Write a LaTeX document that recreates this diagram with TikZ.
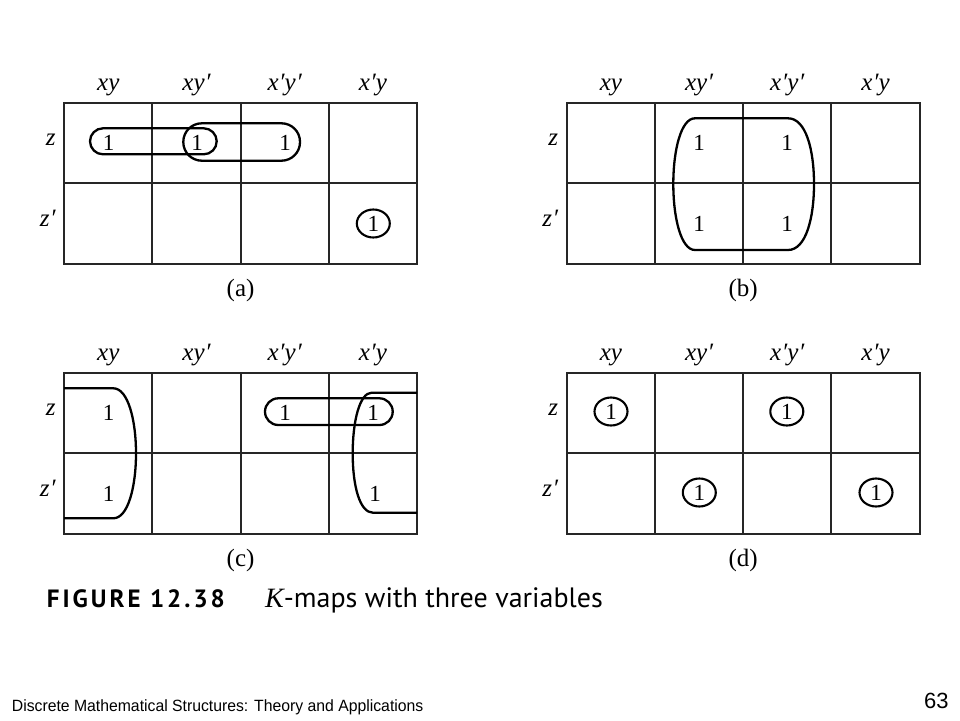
\documentclass[tikz,border=0pt]{standalone}
\usepackage{graphicx}
\usepackage{fontspec}
\newfontfamily\ptsans{PT Sans}
\newfontfamily\figfont[LetterSpace=12]{PT Sans Bold}
\newfontfamily\arialfont{Liberation Sans}
\newfontfamily\timesfont{Liberation Serif}
\usetikzlibrary{shapes.geometric}
\tikzset{
  gridline/.style={line width=1.9pt, draw=black!85},
  loopline/.style={line width=2.3pt, draw=black},
  lbl/.style={inner sep=0pt, font=\timesfont\itshape\fontsize{25}{29}\selectfont},
  one/.style={inner sep=0pt, font=\timesfont\fontsize{23}{27}\selectfont},
  subcap/.style={inner sep=0pt, font=\timesfont\fontsize{25}{29}\selectfont},
  cone/.style={one, draw=black, line width=2.1pt, ellipse, minimum width=33pt, minimum height=28pt},
}
\newcommand{\KMap}[4]{%
  \begin{scope}[shift={(#1,#2)}]
    \draw[gridline] (0,0) rectangle (352.8,161.4);
    \foreach \i in {1,2,3} \draw[gridline] (\i*88.2,0) -- (\i*88.2,161.4);
    \draw[gridline] (0,80.7) -- (352.8,80.7);
    \node[lbl, anchor=base] (#4-h1) at (44.1,-12.7) {xy};
    \node[lbl, anchor=base] (#4-h2) at (132.3,-12.7) {xy\kern0.5pt′};
    \node[lbl, anchor=base] (#4-h3) at (220.5,-12.7) {x\kern0.5pt′y\kern0.5pt′};
    \node[lbl, anchor=base] (#4-h4) at (308.7,-12.7) {x\kern0.5pt′y};
    \node[lbl, anchor=base east] (#4-z) at (-8.5,42.3) {z};
    \node[lbl, anchor=base east] (#4-zp) at (-8.5,124) {z\kern0.5pt′};
    \node[subcap] (#4-cap) at (176.4,187.3) {(#3)};
  \end{scope}}
\begin{document}
\begin{tikzpicture}[x=1pt,y=-1pt]
\fill[white] (0,0) rectangle (960,720);
\useasboundingbox (0,0) rectangle (960,720);
% maps
\KMap{64.2}{102.7}{a}{ma}
\KMap{566.8}{102.7}{b}{mb}
\KMap{64.2}{372.7}{c}{mc}
\KMap{566.8}{372.7}{d}{md}
% (a)
\node[one] (a1) at (108.5,143) {1};
\node[one] (a2) at (197,143) {1};
\node[one] (a3) at (285,143) {1};
\node[cone] (a4) at (373.3,223.5) {1};
\draw[loopline, rounded corners=13] (90,128.3) rectangle (216.7,154.3);
\draw[loopline, rounded corners=18.5] (183.3,123.3) rectangle (300,160.7);
% (b)
\node[one] (b1) at (699,143.3) {1};
\node[one] (b2) at (787,143.3) {1};
\node[one] (b3) at (699,224) {1};
\node[one] (b4) at (787,224) {1};
\draw[loopline] (695,118.3) -- (788,118.3)
  .. controls (806,118.3) and (814,150) .. (814,184)
  .. controls (814,218) and (806,250) .. (788,250)
  -- (695,250)
  .. controls (681,250) and (673.3,218) .. (673.3,184)
  .. controls (673.3,150) and (681,118.3) .. (695,118.3) -- cycle;
% (c)
\node[one] (c1) at (108.5,413.4) {1};
\node[one] (c2) at (108.5,494) {1};
\node[one] (c3) at (285,413.4) {1};
\node[one] (c4) at (373,413.4) {1};
\node[one] (c5) at (375,494) {1};
\draw[loopline] (64.2,388.3) -- (113.3,388.3)
  .. controls (128,388.3) and (136,420) .. (136,453.3)
  .. controls (136,487) and (128,518.3) .. (113.3,518.3) -- (64.2,518.3);
\draw[loopline, rounded corners=13.3] (265,398.3) rectangle (392.7,425);
\draw[loopline] (417,392.7) -- (371.7,392.7)
  .. controls (360,392.7) and (352.7,420) .. (352.7,453.3)
  .. controls (352.7,487) and (360,512.7) .. (373,512.7) -- (417,512.7);
% (d)
\node[cone] (d1) at (611,411.5) {1};
\node[cone] (d2) at (786.8,411.5) {1};
\node[cone] (d3) at (699.3,492.5) {1};
\node[cone] (d4) at (876,492.5) {1};
% caption
\node[inner sep=0pt, anchor=base west, font=\figfont\fontsize{25}{29}\selectfont] (fig) at (46.7,607.7) {FIGURE 12.38};
\node[inner sep=0pt, anchor=base west, font=\ptsans\fontsize{28}{32}\selectfont] (cap) at (265,607.7) {{\timesfont\itshape K}-maps with three variables};
% footer
\node[inner sep=0pt, anchor=base west, font=\arialfont\fontsize{16.3}{19}\selectfont] (foot) at (11.7,711.7) {\scalebox{0.967}[1]{Discrete Mathematical Structures: Theory and Applications}};
\node[inner sep=0pt, anchor=base west, font=\arialfont\fontsize{22}{26}\selectfont] (page) at (924,708.3) {63};
\end{tikzpicture}
\end{document}
